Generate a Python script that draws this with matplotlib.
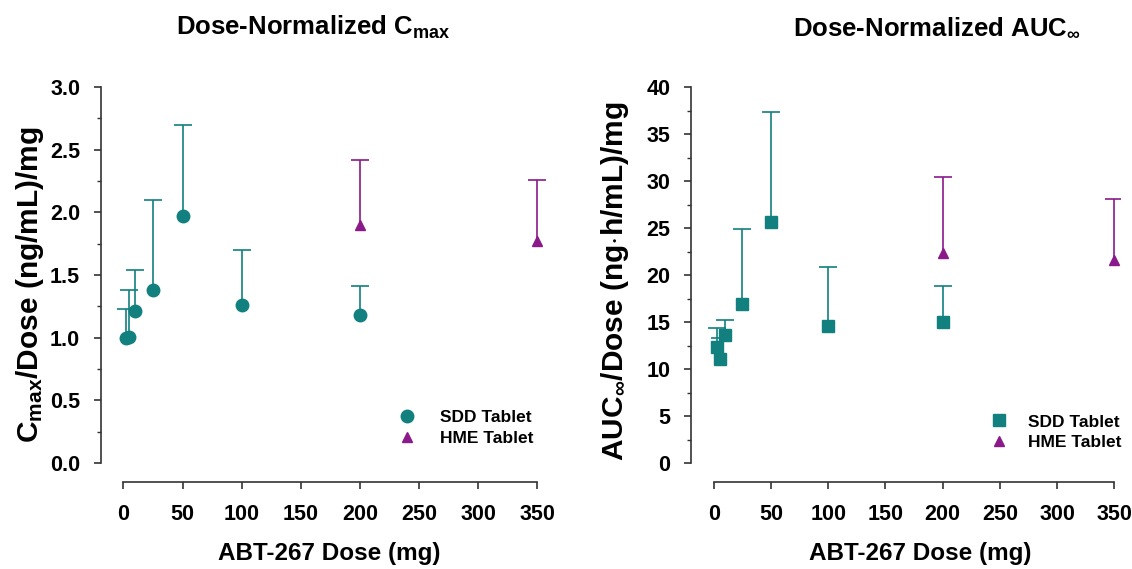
import numpy as np
import matplotlib
matplotlib.use('Agg')
import matplotlib.pyplot as plt
from matplotlib.ticker import MultipleLocator

plt.rcParams['font.family'] = ['Liberation Sans', 'DejaVu Sans']
plt.rcParams['font.weight'] = 'bold'
plt.rcParams['mathtext.fontset'] = 'custom'
plt.rcParams['mathtext.rm'] = 'Liberation Sans:bold'
plt.rcParams['mathtext.bf'] = 'Liberation Sans:bold'
plt.rcParams['mathtext.default'] = 'bf'

#doses (mg)
sdd_dose = [2.5, 5, 10, 25, 50, 100, 200]
hme_dose = [200, 350]

#dose-normalized Cmax, mean and mean+SD
sdd_cmax = [1.00, 1.01, 1.21, 1.38, 1.97, 1.26, 1.18]
sdd_cmax_up = [1.23, 1.38, 1.54, 2.10, 2.70, 1.70, 1.41]
hme_cmax = [1.90, 1.77]
hme_cmax_up = [2.42, 2.26]

#dose-normalized AUCinf, mean and mean+SD
sdd_auc = [12.3, 11.1, 13.6, 16.9, 25.6, 14.6, 15.0]
sdd_auc_up = [14.4, 13.3, 15.2, 24.9, 37.4, 20.9, 18.8]
hme_auc = [22.4, 21.6]
hme_auc_up = [30.4, 28.1]

teal = '#12807f'
purple = '#8a1a8a'

fig = plt.figure(figsize=(11.32, 5.69), dpi=100)
ax1 = fig.add_axes([0.0892, 0.153, 0.401, 0.694])
ax2 = fig.add_axes([0.6104, 0.153, 0.379, 0.694])


def upper_bars(ax, x, y, up, color):
    #only the upper half of the error bar, with a cap on top
    ax.vlines(x, y, up, color=color, lw=1.2, zorder=2)
    ax.plot(x, up, '_', color=color, ms=13, mew=1.2, ls='none', zorder=2)


def panel(ax, sdd_y, sdd_up, hme_y, hme_up, sdd_marker, ylim, ymaj, ymin, fmt, leg_x, leg_y, leg_pad):
    upper_bars(ax, sdd_dose, sdd_y, sdd_up, teal)
    upper_bars(ax, hme_dose, hme_y, hme_up, purple)
    ms = 9 if sdd_marker == 'o' else 8
    ax.plot(sdd_dose, sdd_y, sdd_marker, color=teal, ms=ms, ls='none', label='SDD Tablet', zorder=3)
    ax.plot(hme_dose, hme_y, '^', color=purple, ms=7, ls='none', label='HME Tablet', zorder=3)

    ax.set_ylim(*ylim)
    ax.yaxis.set_major_locator(MultipleLocator(ymaj))
    ax.yaxis.set_minor_locator(MultipleLocator(ymin))
    ax.yaxis.set_major_formatter(plt.FormatStrFormatter(fmt))
    ax.xaxis.set_major_locator(MultipleLocator(50))
    ax.spines['top'].set_visible(False)
    ax.spines['right'].set_visible(False)
    ax.spines['left'].set_bounds(0, ylim[1])
    ax.spines['bottom'].set_bounds(0, 350)
    for s in ['left', 'bottom']:
        ax.spines[s].set_color('#333333')
        ax.spines[s].set_linewidth(1.2)
    ax.tick_params(axis='both', which='major', labelsize=15.5, length=5, width=1.2,
                   color='#333333')
    ax.tick_params(axis='x', pad=11)
    ax.tick_params(axis='y', pad=10)
    ax.tick_params(axis='y', which='minor', length=3, width=1, color='#333333')
    ax.legend(loc='center left', bbox_to_anchor=(leg_x, leg_y), bbox_transform=fig.transFigure,
              frameon=False, fontsize=12.5, handlelength=1.0, handletextpad=leg_pad,
              labelspacing=0.3, borderpad=0, borderaxespad=0)


panel(ax1, sdd_cmax, sdd_cmax_up, hme_cmax, hme_cmax_up, 'o', (-0.15, 3.0), 0.5, 0.25, '%.1f',
      0.3519, 0.248, 1.4)
ax1.set_xlim(-19, 365)

panel(ax2, sdd_auc, sdd_auc_up, hme_auc, hme_auc_up, 's', (-2.0, 40), 5, 2.5, '%d',
      0.8746, 0.2405, 1.18)
ax2.set_xlim(-20, 355)

#titles and axis labels
fig.text(0.277, 0.951, r'Dose-Normalized C$_{max}$', fontsize=18.5, ha='center', va='center')
fig.text(0.828, 0.951, r'Dose-Normalized AUC$_{\infty}$', fontsize=18.5, ha='center', va='center')
fig.text(0.291, 0.027, 'ABT-267 Dose (mg)', fontsize=17.5, ha='center', va='center')
fig.text(0.813, 0.027, 'ABT-267 Dose (mg)', fontsize=17.5, ha='center', va='center')
fig.text(0.0265, 0.499, r'C$_{max}$/Dose (ng/mL)/mg', fontsize=21.5, rotation=90,
         ha='center', va='center')
fig.text(0.543, 0.506, r'AUC$_{\infty}$/Dose (ng$\cdot$h/mL)/mg', fontsize=21.5, rotation=90,
         ha='center', va='center')

fig.savefig('out.png', dpi=100)
